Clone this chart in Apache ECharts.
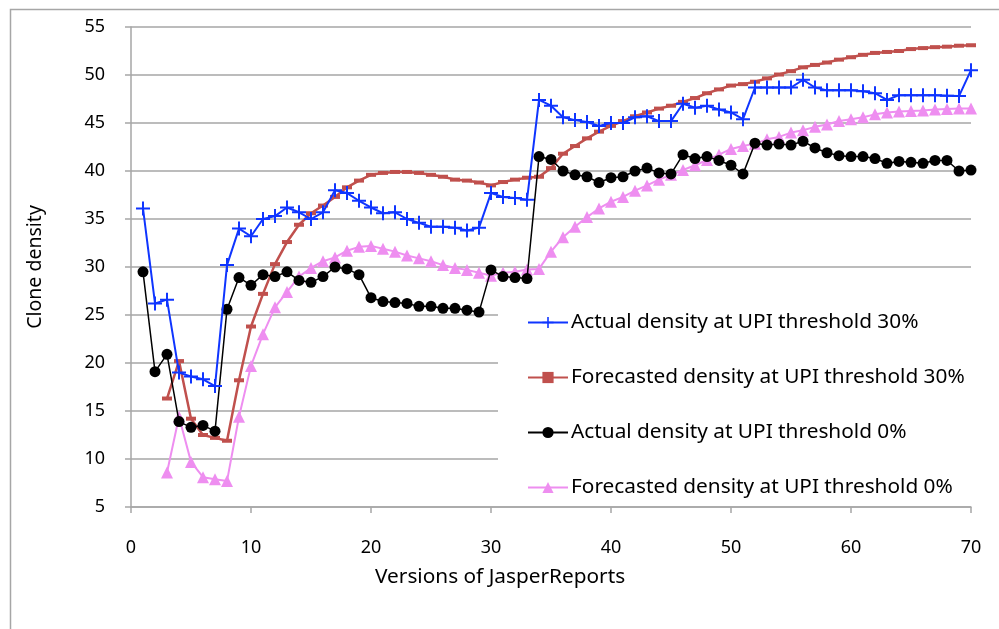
<!DOCTYPE html>
<html>
<head>
<meta charset="utf-8">
<script src="https://cdn.jsdelivr.net/npm/echarts@6/dist/echarts.min.js"></script>
<style>html,body{margin:0;padding:0;background:#fff}#c{width:999px;height:629px}</style>
</head>
<body>
<div id="c"></div>
<script>
const versions = [1,2,3,4,5,6,7,8,9,10,11,12,13,14,15,16,17,18,19,20,21,22,23,24,25,26,27,28,29,30,31,32,33,34,35,36,37,38,39,40,41,42,43,44,45,46,47,48,49,50,51,52,53,54,55,56,57,58,59,60,61,62,63,64,65,66,67,68,69,70];
const seriesNames = ['Actual density at UPI threshold 30%','Forecasted density at UPI threshold 30%','Actual density at UPI threshold 0%','Forecasted density at UPI threshold 0%'];
const actual30 = [36.1,26.2,26.6,19.0,18.6,18.3,17.6,30.2,34.0,33.2,
  35.0,35.3,36.2,35.7,35.0,35.7,38.0,37.7,36.9,36.2,
  35.6,35.7,35.0,34.6,34.2,34.2,34.1,33.8,34.1,37.7,
  37.3,37.2,37.0,47.4,46.8,45.6,45.3,45.1,44.7,45.0,
  45.0,45.6,45.7,45.2,45.2,47.0,46.6,46.8,46.4,46.1,
  45.4,48.7,48.7,48.7,48.7,49.5,48.7,48.4,48.4,48.4,
  48.3,48.1,47.4,47.9,47.9,47.9,47.9,47.85,47.8,50.5];
const forecast30 = [null,null,16.3,20.2,14.2,12.5,12.2,11.9,18.2,23.8,
  27.2,30.3,32.6,34.4,35.6,36.4,37.3,38.3,39.0,39.6,
  39.8,39.9,39.9,39.8,39.6,39.4,39.1,39.0,38.8,38.5,
  38.85,39.1,39.3,39.4,40.3,41.8,42.6,43.4,44.1,44.7,
  45.2,45.7,46.1,46.5,46.8,47.2,47.6,48.1,48.5,48.9,
  49.05,49.3,49.65,50.05,50.4,50.8,51.05,51.3,51.6,51.85,
  52.1,52.3,52.4,52.5,52.7,52.8,52.9,52.95,53.05,53.1];
const actual0 = [29.5,19.1,20.9,13.9,13.3,13.5,12.9,25.6,28.9,28.1,
  29.2,29.0,29.5,28.6,28.4,29.0,30.0,29.8,29.2,26.8,
  26.4,26.3,26.2,25.9,25.9,25.7,25.7,25.5,25.3,29.7,
  29.0,28.9,28.8,41.5,41.2,40.0,39.6,39.4,38.8,39.3,
  39.4,40.0,40.3,39.8,39.7,41.7,41.3,41.5,41.1,40.6,
  39.7,42.9,42.7,42.8,42.7,43.1,42.4,41.9,41.6,41.5,
  41.5,41.3,40.8,41.0,40.9,40.8,41.1,41.1,40.0,40.1];
const forecast0 = [null,null,8.6,14.4,9.7,8.1,7.9,7.7,14.4,19.7,
  23.0,25.8,27.4,29.0,29.9,30.6,31.0,31.7,32.1,32.2,
  31.9,31.6,31.2,30.9,30.6,30.2,29.9,29.7,29.4,29.1,
  29.4,29.5,29.75,29.8,31.6,33.1,34.2,35.2,36.1,36.8,
  37.3,37.95,38.5,39.1,39.6,40.1,40.6,41.15,41.7,42.3,
  42.6,42.85,43.3,43.55,44.0,44.25,44.6,44.85,45.2,45.4,
  45.6,45.9,46.1,46.2,46.25,46.3,46.4,46.45,46.5,46.5];
const xAxisTitle = 'Versions of JasperReports';
const yAxisTitle = 'Clone density';

const pair = arr => versions.map((v, i) => [v, arr[i]]);
const FONT = 'Noto Sans';
const chart = echarts.init(document.getElementById('c'), null, {renderer: 'canvas'});
const plus = 'path://M6,0h2v6h6v2h-6v6h-2v-6h-6v-2h6z';
chart.setOption({
  animation: false,
  backgroundColor: '#fff',
  textStyle: {fontFamily: FONT},
  grid: {left: 131, right: 28, top: 27, bottom: 122, containLabel: false},
  xAxis: {
    type: 'value', min: 0, max: 70, interval: 10,
    axisLine: {show: true, lineStyle: {color: '#a6a6a6', width: 1.5}},
    axisTick: {show: true, length: 6, lineStyle: {color: '#a6a6a6', width: 1.5}},
    axisLabel: {color: '#000', fontSize: 18, margin: 32, fontFamily: FONT},
    splitLine: {show: false}
  },
  yAxis: {
    type: 'value', min: 5, max: 55, interval: 5,
    name: yAxisTitle, nameLocation: 'middle', nameGap: 86,
    nameTextStyle: {color: '#000', fontSize: 19.5, fontFamily: FONT},
    axisLine: {show: true, lineStyle: {color: '#a6a6a6', width: 1.5}},
    axisTick: {show: true, length: 6, lineStyle: {color: '#a6a6a6', width: 1.5}},
    axisLabel: {color: '#000', fontSize: 18, margin: 26, fontFamily: FONT},
    splitLine: {show: true, lineStyle: {color: '#a6a6a6', width: 1.5}}
  },
  legend: {
    orient: 'vertical', left: 498, top: 304,
    padding: [8, 10, 8, 29],
    backgroundColor: '#fff',
    itemWidth: 40, itemHeight: 14, itemGap: 34,
    textStyle: {color: '#000', fontSize: 20.8, fontFamily: FONT, padding: [0, 0, 0, -2]},
    data: seriesNames
  },
  graphic: [
    {type: 'rect', left: 8, top: 7, z: -10, silent: true,
     shape: {width: 1100, height: 700}, style: {fill: 'none', stroke: '#a6a6a6', lineWidth: 1.5}},
    {type: 'text', left: 375, top: 567, silent: true,
     style: {text: xAxisTitle, fill: '#000', font: '20.8px "Noto Sans"'}}
  ],
  series: [
    {name: seriesNames[0], type: 'line', data: pair(actual30), color: '#0f35ff',
     lineStyle: {width: 2}, symbol: plus, symbolSize: 14, showAllSymbol: true, z: 4,
     itemStyle: {color: '#0f35ff'}},
    {name: seriesNames[1], type: 'line', data: pair(forecast30), color: '#c0504d',
     lineStyle: {width: 2.5}, symbol: 'rect', symbolSize: [10, 4], showAllSymbol: true, z: 2,
     itemStyle: {color: '#c0504d'}},
    {name: seriesNames[2], type: 'line', data: pair(actual0), color: '#000',
     lineStyle: {width: 1.5}, symbol: 'circle', symbolSize: 11, showAllSymbol: true, z: 3,
     itemStyle: {color: '#000'}},
    {name: seriesNames[3], type: 'line', data: pair(forecast0), color: '#ee8ef0',
     lineStyle: {width: 2}, symbol: 'triangle', symbolSize: 12, showAllSymbol: true, z: 1,
     itemStyle: {color: '#ee8ef0'}}
  ]
});
</script>
</body>
</html>
